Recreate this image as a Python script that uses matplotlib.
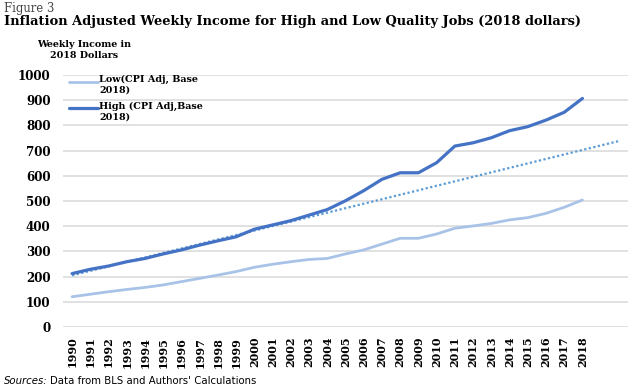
import numpy as np
import matplotlib.pyplot as plt
from matplotlib.legend_handler import HandlerLine2D

# years shown on the axis, plus two empty slots for the trend forecast
years = [str(y) for y in range(1990, 2019)] + ["", ""]

low = [120, 130, 140, 149, 157, 167, 180, 193, 206, 220,
       237, 249, 259, 268, 272, 290, 306, 329, 352, 352,
       369, 392, 401, 411, 425, 434, 451, 475, 504]
high = [212, 229, 242, 259, 272, 290, 306, 325, 342, 358,
        388, 405, 422, 444, 466, 501, 541, 586, 612, 612,
        652, 718, 731, 751, 779, 795, 821, 852, 907]

# dotted linear trend, start (1990) and end (2020) values
trend_start = 205
trend_end = 738


class TopLine(HandlerLine2D):
    # put the legend line next to the first text line, like Excel does
    def create_artists(self, legend, orig_handle, xdescent, ydescent,
                       width, height, fontsize, trans):
        return super().create_artists(legend, orig_handle, xdescent,
                                      ydescent - 0.62 * fontsize, width,
                                      height, fontsize, trans)


fig = plt.figure(figsize=(6.3, 3.9), dpi=100)
ax = fig.add_axes([63 / 630, 1 - 327 / 390, 565 / 630, 252 / 390])

x = np.arange(len(years))
ax.plot([x[0], x[-1]], [trend_start, trend_end], color="#5B9BD5", lw=1.6,
        linestyle=(0, (1, 1.1)), zorder=2)
ax.plot(x[:len(low)], low, color="#A9C3E8", lw=2.0, solid_capstyle="round",
        label="Low(CPI Adj, Base\n2018)", zorder=3)
ax.plot(x[:len(high)], high, color="#4472C4", lw=2.3, solid_capstyle="round",
        label="High (CPI Adj,Base\n2018)", zorder=3)

ax.set_xlim(-0.5, len(years) - 0.5)
ax.set_ylim(0, 1000)
ax.set_yticks(range(0, 1001, 100))
ax.set_xticks(x)
ax.set_xticklabels(years, rotation=90, fontsize=8.0, fontweight="bold",
                   family="DejaVu Serif")
for lab in ax.get_yticklabels():
    lab.set_fontsize(8.6)
    lab.set_fontweight("bold")
    lab.set_family("DejaVu Serif")
ax.tick_params(axis="y", length=0, pad=9)
ax.tick_params(axis="x", length=0, pad=7)
ax.grid(axis="y", color="#D9D9D9", lw=1.1)
ax.set_axisbelow(True)
for s in ax.spines.values():
    s.set_visible(False)

ax.legend(loc="upper left", bbox_to_anchor=(-0.005, 1.035), frameon=False,
          prop={"family": "DejaVu Serif", "weight": "bold", "size": 6.9},
          handlelength=3.0, handletextpad=0.2, labelspacing=0.75,
          handler_map={plt.Line2D: TopLine()})

fig.text(4 / 630, 1 - 12 / 390, "Figure 3", fontsize=8.4, family="DejaVu Serif",
         color="#444444", va="baseline")
fig.text(4 / 630, 1 - 22 / 390,
         "Inflation Adjusted Weekly Income for High and Low Quality Jobs (2018 dollars)",
         fontsize=9.4, fontweight="bold", family="DejaVu Serif", va="center")
fig.text(84 / 630, 1 - 50 / 390, "Weekly Income in\n2018 Dollars", fontsize=6.8,
         fontweight="bold", family="DejaVu Serif", ha="center", va="center",
         linespacing=1.15)
fig.text(4 / 630, 1 - 381 / 390, "Sources:", fontsize=7.3, style="italic",
         family="DejaVu Sans", va="center")
fig.text(50 / 630, 1 - 381 / 390, "Data from BLS and Authors' Calculations",
         fontsize=7.3, family="DejaVu Sans", va="center")

fig.savefig("out.png", dpi=100)
